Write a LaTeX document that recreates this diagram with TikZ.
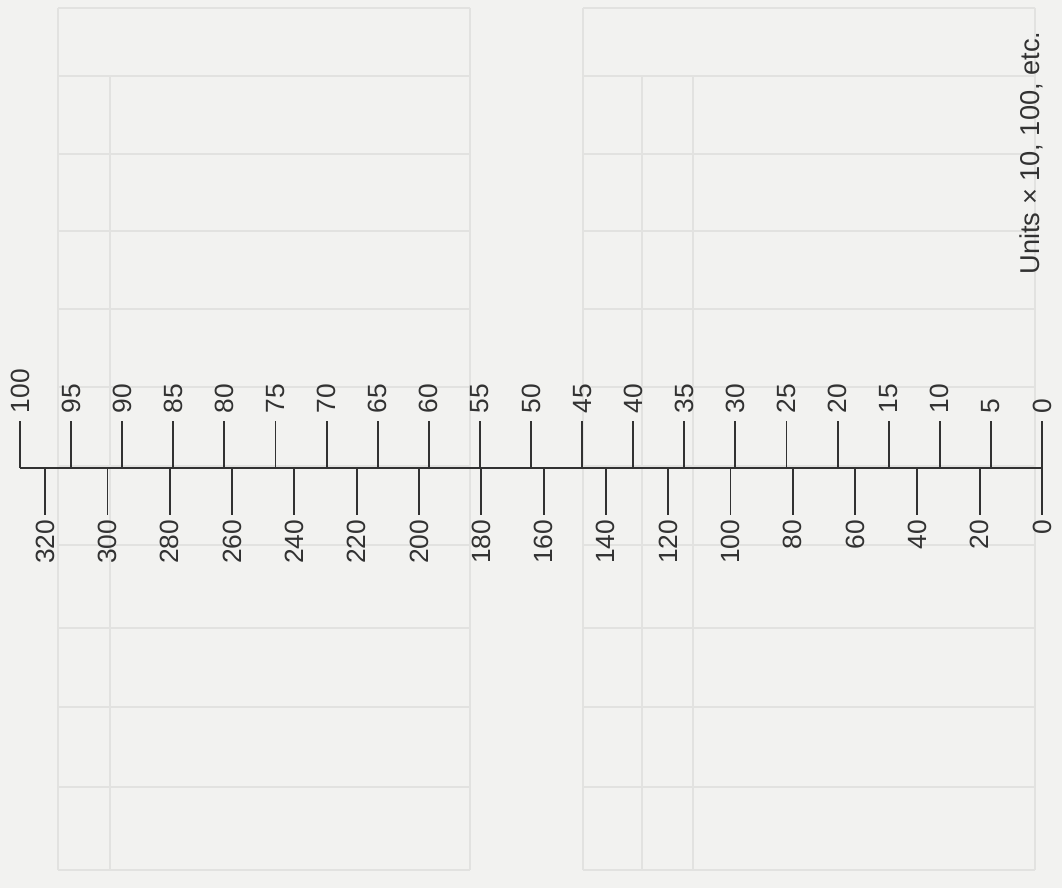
\documentclass[tikz,border=0pt]{standalone}
\usepackage{fontspec}
\setmainfont{Liberation Sans}
\definecolor{ScaleInk}{RGB}{50,50,50}
\definecolor{PaperGrey}{RGB}{242,242,240}
\definecolor{GhostLine}{RGB}{226,226,224}
\tikzset{
  scaleline/.style={ScaleInk,line width=1.1pt},
  ghost/.style={GhostLine,line width=1.3pt},
  metrelabel/.style={rotate=90,anchor=west,inner sep=0pt,outer sep=4.5pt,
    text=ScaleInk,font=\fontsize{15}{15}\selectfont},
  feetlabel/.style={rotate=90,anchor=east,inner sep=0pt,outer sep=2.8pt,
    text=ScaleInk,font=\fontsize{15}{15}\selectfont},
  unitnote/.style={rotate=90,inner sep=0pt,text=ScaleInk,
    font=\fontsize{15.5}{15.5}\selectfont}
}
\begin{document}
\begin{tikzpicture}[x=0.02cm,y=-0.02cm]
  \fill[PaperGrey] (0,0) rectangle (1062,888);
  \useasboundingbox (0,0) rectangle (1062,888);
  % faint table showing through the page
  \foreach \ty in {8,76,154,231,309,387,466,545,628,707,787,870} {
    \draw[ghost] (58,\ty) -- (470,\ty);
    \draw[ghost] (583,\ty) -- (1035,\ty);
  }
  \foreach \tx in {58,470,583,1035}
    \draw[ghost] (\tx,8) -- (\tx,870);
  \foreach \tx in {110,642,693}
    \draw[ghost] (\tx,76) -- (\tx,870);

  % the scale: metres above, feet below
  \coordinate (left) at (20,468);
  \coordinate (right) at (1042,468);
  \draw[scaleline] (left) -- (right);
  \foreach \v in {0,5,...,100}
    \draw[scaleline] ({1042-10.22*\v},468) -- ({1042-10.22*\v},421)
      node[metrelabel] (m\v) {\v};
  \foreach \f in {0,20,...,320}
    \draw[scaleline] ({1042-3.1151*\f},468) -- ({1042-3.1151*\f},515)
      node[feetlabel] (f\f) {\f};

  \node[unitnote] (units) at (1031,153) {Units × 10, 100, etc.};
\end{tikzpicture}
\end{document}
